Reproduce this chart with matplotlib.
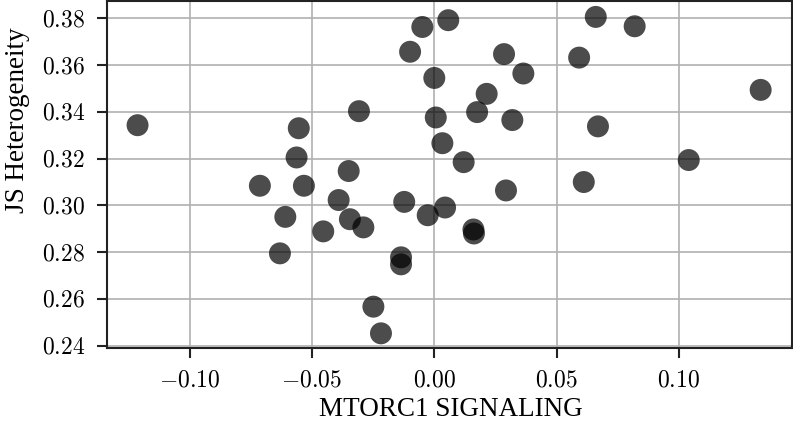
import numpy as np
import matplotlib
matplotlib.use('Agg')
import matplotlib.pyplot as plt
from matplotlib.ticker import FuncFormatter

plt.rcParams['font.family'] = ['Liberation Serif', 'DejaVu Serif']
plt.rcParams['mathtext.fontset'] = 'cm'

# MTORC1 signaling score vs JS heterogeneity
mtorc1 = [-0.1213, -0.0554, -0.0563, -0.0713, -0.0533, -0.0308, -0.0350, -0.0391,
          -0.0123, -0.0099, -0.0049, 0.0057, 0.0285, 0.0660, 0.0819, 0.0592,
          0.0000, 0.0364, 0.1334, 0.0214, 0.0175, 0.0006, 0.0319, 0.0669,
          0.0033, 0.0120, 0.1040, 0.0611, 0.0293, 0.0044, -0.0027, 0.0160,
          0.0162, -0.0609, -0.0454, -0.0345, -0.0290, -0.0631, -0.0249, -0.0218,
          -0.0136, -0.0136]
js_het = [0.3343, 0.3330, 0.3205, 0.3084, 0.3084, 0.3403, 0.3147, 0.3023,
          0.3015, 0.3657, 0.3763, 0.3792, 0.3647, 0.3806, 0.3766, 0.3632,
          0.3545, 0.3564, 0.3494, 0.3477, 0.3399, 0.3376, 0.3365, 0.3338,
          0.3266, 0.3185, 0.3194, 0.3100, 0.3064, 0.2991, 0.2958, 0.2897,
          0.2880, 0.2951, 0.2889, 0.2941, 0.2906, 0.2795, 0.2567, 0.2453,
          0.2778, 0.2748]
xticks = [-0.10, -0.05, 0.00, 0.05, 0.10]
yticks = [0.24, 0.26, 0.28, 0.30, 0.32, 0.34, 0.36, 0.38]

fig = plt.figure(figsize=(7.93, 4.23), dpi=100)
ax = fig.add_axes([0.1349, 0.1766, 0.8638, 0.821])

ax.scatter(mtorc1, js_het, s=250, color='k', alpha=0.7, edgecolors='none', zorder=3)

ax.set_xlim(-0.1338, 0.1462)
ax.set_ylim(0.2389, 0.3874)
ax.set_xticks(xticks)
ax.set_yticks(yticks)
ax.xaxis.set_major_formatter(FuncFormatter(lambda v, p: '$%.2f$' % v))
ax.yaxis.set_major_formatter(FuncFormatter(lambda v, p: '$%.2f$' % v))
ax.grid(True, color='#b0b0b0', linewidth=1.2, zorder=0)
ax.set_axisbelow(True)
for s in ax.spines.values():
    s.set_color('#222222')
    s.set_linewidth(1.5)
ax.tick_params(direction='out', length=7, width=1.5, color='#222222',
               labelsize=17, pad=9)

ax.set_xlabel('MTORC1 SIGNALING', fontsize=19.5)
ax.set_ylabel('JS Heterogeneity', fontsize=19.5)
ax.xaxis.set_label_coords(0.502, -0.141)
ax.yaxis.set_label_coords(-0.112, 0.657)

fig.savefig('out.png', dpi=100)
